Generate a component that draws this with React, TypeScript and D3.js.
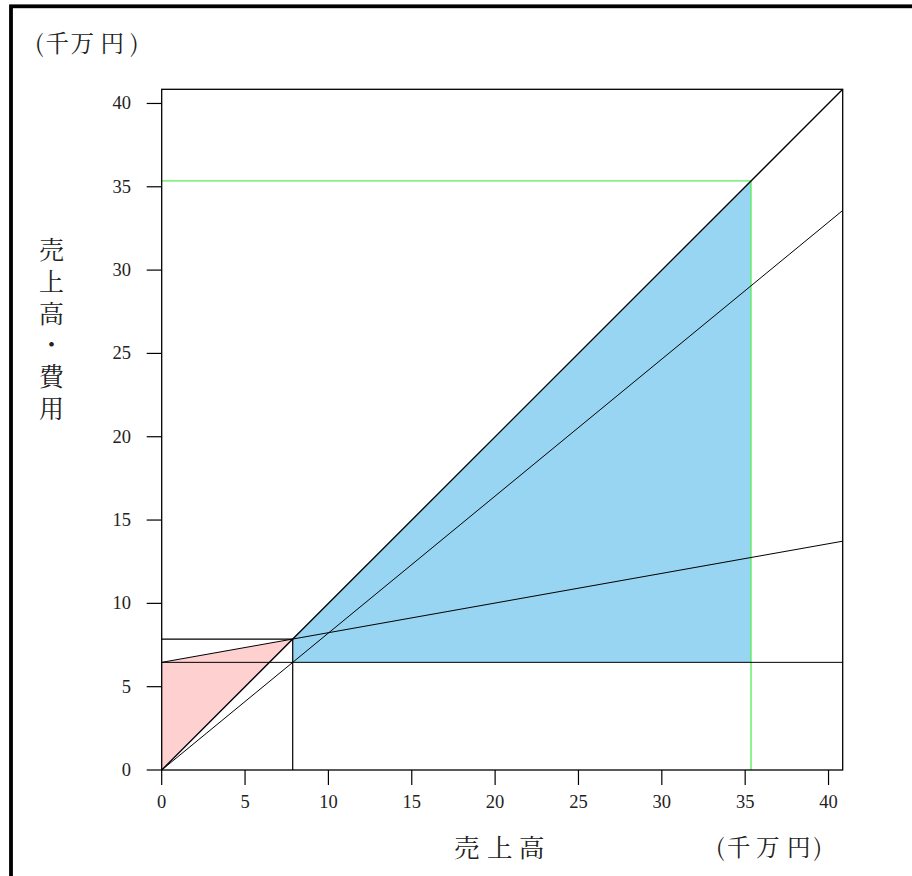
import React from "react";
import { scaleLinear, line } from "d3";

// values in 千万円
const axisMax = 40.85;
const tickValues = [0, 5, 10, 15, 20, 25, 30, 35, 40];
const fixedCost = 6.46;
const variableRate = 0.178;
const salesAmount = 35.35;
const yLabel = "売上高・費用";
const xLabel = "売上高";
const unitLabel = "(千万円)";

const W = 912;
const H = 876;
const plot = { left: 161.7, right: 842.7, top: 89.3, bottom: 770 };

const cjk = "'Noto Serif CJK JP', 'Noto Sans CJK JP', sans-serif";
const num = "'Liberation Serif', 'DejaVu Serif', serif";

export default function App() {
  const x = scaleLinear().domain([0, axisMax]).range([plot.left, plot.right]);
  const y = scaleLinear().domain([0, axisMax]).range([plot.bottom, plot.top]);
  const path = line<[number, number]>()
    .x((d) => x(d[0]))
    .y((d) => y(d[1]));

  const breakEven = fixedCost / (1 - variableRate);

  const pink: [number, number][] = [
    [0, 0],
    [0, fixedCost],
    [breakEven, breakEven],
  ];
  const blue: [number, number][] = [
    [breakEven, fixedCost],
    [breakEven, breakEven],
    [salesAmount, salesAmount],
    [salesAmount, fixedCost],
  ];

  const salesLine: [number, number][] = [
    [0, 0],
    [axisMax, axisMax],
  ];
  const totalCost: [number, number][] = [
    [0, fixedCost],
    [axisMax, fixedCost + variableRate * axisMax],
  ];
  const marginal: [number, number][] = [
    [0, 0],
    [axisMax, (1 - variableRate) * axisMax],
  ];
  const fixedLine: [number, number][] = [
    [0, fixedCost],
    [axisMax, fixedCost],
  ];

  // per-glyph placement of the vertical CJK label
  const chars = yLabel.split("");
  const yLabelX = chars.map(() => 51.5).join(" ");
  const yLabelY = chars.map((_, i) => 259 + i * 31.8).join(" ");

  return (
    <svg
      width={W}
      height={H}
      style={{ position: "absolute", left: 0, top: 0, background: "#fff" }}
    >
      <rect x={11} y={6.3} width={1000} height={1000} fill="none" stroke="#000" strokeWidth={3.8} />

      {/* areas */}
      <path d={path(pink) + "Z"} fill="#ffd0d0" />
      <path d={path(blue) + "Z"} fill="#97d5f2" />

      {/* green sales marker */}
      <path
        d={path([
          [0, salesAmount],
          [salesAmount, salesAmount],
          [salesAmount, 0],
        ]) ?? ""}
        fill="none"
        stroke="#55ee55"
        strokeWidth={1.3}
      />

      {/* break-even guides */}
      <path
        d={path([
          [0, breakEven],
          [breakEven, breakEven],
          [breakEven, 0],
        ]) ?? ""}
        fill="none"
        stroke="#000"
        strokeWidth={1.2}
      />

      {[salesLine, totalCost, marginal, fixedLine].map((d, i) => (
        <path key={i} d={path(d) ?? ""} fill="none" stroke="#000" strokeWidth={i === 0 ? 1.3 : 1} />
      ))}

      {/* frame */}
      <rect
        x={plot.left}
        y={plot.top}
        width={plot.right - plot.left}
        height={plot.bottom - plot.top}
        fill="none"
        stroke="#000"
        strokeWidth={1.3}
      />

      {/* x axis ticks */}
      {tickValues.map((t) => (
        <g key={"x" + t}>
          <line x1={x(t)} x2={x(t)} y1={plot.bottom} y2={plot.bottom + 15} stroke="#000" strokeWidth={1.2} />
          <text x={x(t)} y={plot.bottom + 38} textAnchor="middle" fontFamily={num} fontSize={18.5} fill="#222">
            {t}
          </text>
        </g>
      ))}

      {/* y axis ticks */}
      {tickValues.map((t) => (
        <g key={"y" + t}>
          <line x1={plot.left - 15} x2={plot.left} y1={y(t)} y2={y(t)} stroke="#000" strokeWidth={1.2} />
          <text x={131} y={y(t) + 6} textAnchor="end" fontFamily={num} fontSize={18.5} fill="#222">
            {t}
          </text>
        </g>
      ))}

      {/* labels */}
      <text x="35 45.5 70.5 100.5 130" y={52} fontFamily={cjk} fontSize={23.5} fill="#222">
        {unitLabel}
      </text>
      <text x={yLabelX} y={yLabelY} textAnchor="middle" fontFamily={cjk} fontSize={25} fill="#222">
        {yLabel}
      </text>
      <text x="454 487 519" y={857} fontFamily={cjk} fontSize={25.5} fill="#222">
        {xLabel}
      </text>
      <text x="716 727 756 787 813.5" y={856} fontFamily={cjk} fontSize={23.5} fill="#222">
        {unitLabel}
      </text>
    </svg>
  );
}
